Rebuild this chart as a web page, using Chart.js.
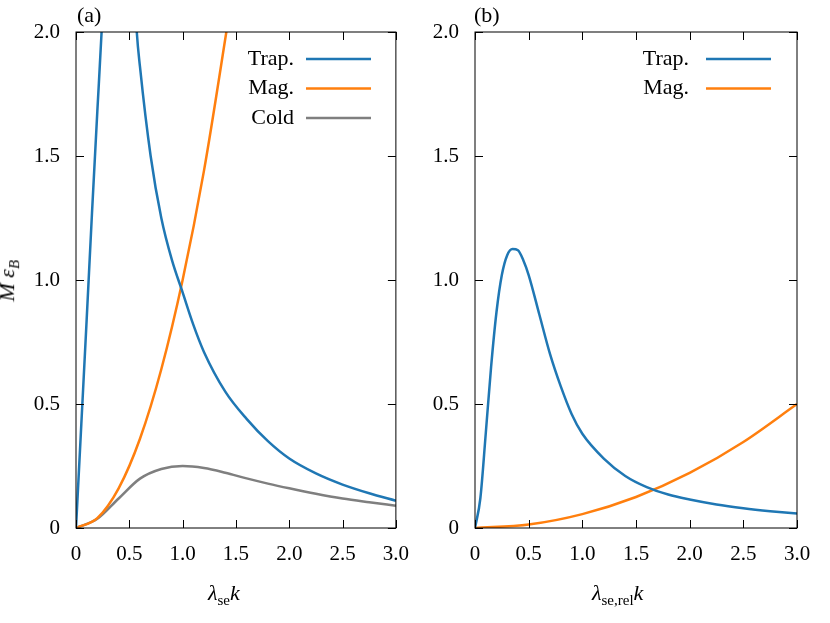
<!DOCTYPE html>
<html>
<head>
  <meta charset="utf-8">
  <title>M epsilon_B</title>
  <script src="https://cdn.jsdelivr.net/npm/chart.js@4.4.0/dist/chart.umd.min.js"></script>
  <style>
    body { margin: 0; background: #fff; font-family: "Liberation Serif", "DejaVu Serif", serif; }
    #wrap { position: relative; width: 830px; height: 623px; }
    canvas { position: absolute; top: 0; }
    .lbl { position: absolute; font-size: 22px; color: #000; white-space: nowrap; font-family: "Liberation Serif", serif; }
    .lbl sub { font-size: 15px; }
  </style>
</head>
<body>
  <div id="wrap">
    <canvas id="chartA" style="left:0;width:415px;height:623px"></canvas>
    <canvas id="chartB" style="left:415px;width:415px;height:623px"></canvas>
    <div class="lbl" style="left:77px;top:2px">(a)</div>
    <div class="lbl" style="left:474px;top:2px">(b)</div>
    <div class="lbl" style="left:208px;top:580px"><i>λ</i><sub>se</sub><i>k</i></div>
    <div class="lbl" style="left:592px;top:580px"><i>λ</i><sub>se,rel</sub><i>k</i></div>
    <div class="lbl" style="left:-12px;top:266px;transform:rotate(-90deg)"><i>M ε<sub>B</sub></i></div>
  </div>

  <script>
    // panel (a)
    const trapA_x = [0, 0.05, 0.1, 0.15, 0.2, 0.24, 0.3, 0.4, 0.5, 0.57, 0.6, 0.7, 0.8, 0.9, 1.0, 1.1, 1.2, 1.4, 1.6, 1.8, 2.0, 2.25, 2.5, 2.75, 3.0];
    const trapA_y = [0, 0.42, 0.84, 1.27, 1.68, 2.0, 2.6, 3.4, 2.6, 2.0, 1.86, 1.5, 1.25, 1.08, 0.95, 0.82, 0.71, 0.55, 0.44, 0.35, 0.28, 0.22, 0.175, 0.14, 0.11];
    const magA_x = [0, 0.2, 0.4, 0.6, 0.8, 1.0, 1.2, 1.41, 1.5];
    const magA_y = [0, 0.04, 0.16, 0.36, 0.64, 1.0, 1.44, 2.0, 2.25];
    const coldA_x = [0, 0.2, 0.4, 0.6, 0.8, 1.0, 1.2, 1.4, 1.6, 1.8, 2.0, 2.25, 2.5, 2.75, 3.0];
    const coldA_y = [0, 0.037, 0.119, 0.199, 0.238, 0.25, 0.242, 0.223, 0.2, 0.179, 0.16, 0.138, 0.119, 0.104, 0.09];
    // panel (b)
    const trapB_x = [0, 0.05, 0.1, 0.15, 0.2, 0.25, 0.3, 0.35, 0.4, 0.45, 0.5, 0.6, 0.7, 0.8, 0.9, 1.0, 1.2, 1.4, 1.6, 1.8, 2.0, 2.25, 2.5, 2.75, 3.0];
    const trapB_y = [0, 0.12, 0.38, 0.65, 0.87, 1.02, 1.1, 1.125, 1.12, 1.08, 1.02, 0.86, 0.7, 0.57, 0.46, 0.38, 0.28, 0.21, 0.165, 0.135, 0.115, 0.095, 0.08, 0.068, 0.058];
    const magB_x = [0, 0.5, 1.0, 1.5, 2.0, 2.5, 3.0];
    const magB_y = [0, 0.014, 0.056, 0.125, 0.222, 0.347, 0.5];

    const xTicks = [0, 0.5, 1, 1.5, 2, 2.5, 3];
    const yTicks = [0, 0.5, 1, 1.5, 2];

    const BLUE = '#1f77b4', ORANGE = '#ff7f0e', GREY = '#7f7f7f';
    const FONT = { family: '"Liberation Serif", serif', size: 21 };

    function pts(xs, ys) {
      return xs.map((x, i) => ({ x: x, y: ys[i] }));
    }

    function ds(label, xs, ys, color) {
      return {
        label: label, data: pts(xs, ys), borderColor: color, borderWidth: 2.5,
        pointRadius: 0, cubicInterpolationMode: 'monotone', fill: false
      };
    }

    // frame with inward, mirrored ticks plus gnuplot-style legend
    const framePlugin = {
      id: 'frame',
      afterDatasetsDraw(chart, args, opts) {
        const ctx = chart.ctx, a = chart.chartArea;
        const xs = chart.scales.x, ys = chart.scales.y;
        ctx.save();
        ctx.strokeStyle = '#000';
        ctx.lineWidth = 1;
        ctx.strokeRect(a.left, a.top, a.right - a.left, a.bottom - a.top);
        xTicks.forEach(v => {
          const p = Math.round(xs.getPixelForValue(v)) + 0.5;
          ctx.beginPath();
          ctx.moveTo(p, a.bottom); ctx.lineTo(p, a.bottom - 8);
          ctx.moveTo(p, a.top); ctx.lineTo(p, a.top + 8);
          ctx.stroke();
        });
        yTicks.forEach(v => {
          const p = Math.round(ys.getPixelForValue(v)) + 0.5;
          ctx.beginPath();
          ctx.moveTo(a.left, p); ctx.lineTo(a.left + 8, p);
          ctx.moveTo(a.right, p); ctx.lineTo(a.right - 8, p);
          ctx.stroke();
        });
        // legend
        ctx.font = '22px "Liberation Serif", serif';
        ctx.textAlign = 'right';
        ctx.textBaseline = 'middle';
        chart.data.datasets.forEach((d, i) => {
          const y = opts.top + i * 29.5;
          ctx.fillStyle = '#000';
          ctx.fillText(d.label, opts.textRight, y);
          ctx.strokeStyle = d.borderColor;
          ctx.lineWidth = 2.5;
          ctx.beginPath();
          ctx.moveTo(opts.lineStart, y); ctx.lineTo(opts.lineStart + 65, y);
          ctx.stroke();
        });
        ctx.restore();
      }
    };

    function makeChart(id, datasets, yWidth, padRight, legendOpts) {
      return new Chart(document.getElementById(id), {
        type: 'line',
        data: { datasets: datasets },
        plugins: [framePlugin],
        options: {
          responsive: false,
          animation: false,
          layout: { padding: { top: 32, right: padRight, left: 0, bottom: 0 } },
          plugins: { legend: { display: false }, tooltip: { enabled: false }, frame: legendOpts },
          scales: {
            x: {
              type: 'linear', min: 0, max: 3,
              afterBuildTicks: s => { s.ticks = xTicks.map(v => ({ value: v })); },
              afterFit: s => { s.height = 95; },
              grid: { display: false }, border: { display: false },
              ticks: { color: '#000', font: FONT, padding: 6, maxRotation: 0, autoSkip: false }
            },
            y: {
              min: 0, max: 2,
              afterBuildTicks: s => { s.ticks = yTicks.map(v => ({ value: v })); },
              afterFit: s => { s.width = yWidth; },
              grid: { display: false }, border: { display: false },
              ticks: { color: '#000', font: FONT, padding: 8, autoSkip: false }
            }
          }
        }
      });
    }

    for (const id of ['chartA', 'chartB']) {
      const c = document.getElementById(id);
      c.width = 415; c.height = 623;
    }

    makeChart('chartA', [
      ds('Trap.', trapA_x, trapA_y, BLUE),
      ds('Mag.', magA_x, magA_y, ORANGE),
      ds('Cold', coldA_x, coldA_y, GREY)
    ], 76, 17, { top: 59, textRight: 294, lineStart: 306 });

    makeChart('chartB', [
      ds('Trap.', trapB_x, trapB_y, BLUE),
      ds('Mag.', magB_x, magB_y, ORANGE)
    ], 60, 33, { top: 59, textRight: 274, lineStart: 291 });
  </script>
</body>
</html>
